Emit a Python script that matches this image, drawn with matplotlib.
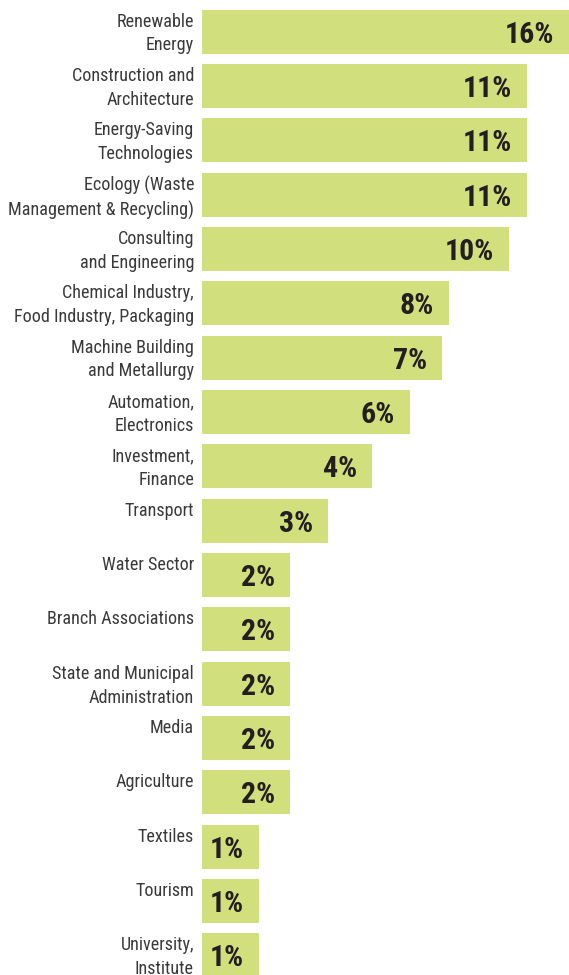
import matplotlib
matplotlib.use("Agg")
import matplotlib.pyplot as plt
from matplotlib import font_manager

# ---------------- data ----------------
categories = [
    "Renewable\nEnergy",
    "Construction and\nArchitecture",
    "Energy-Saving\nTechnologies",
    "Ecology (Waste\nManagement & Recycling)",
    "Consulting\nand Engineering",
    "Chemical Industry,\nFood Industry, Packaging",
    "Machine Building\nand Metallurgy",
    "Automation,\nElectronics",
    "Investment,\nFinance",
    "Transport",
    "Water Sector",
    "Branch Associations",
    "State and Municipal\nAdministration",
    "Media",
    "Agriculture",
    "Textiles",
    "Tourism",
    "University,\nInstitute",
]
percent_labels = ["16%", "11%", "11%", "11%", "10%", "8%", "7%", "6%", "4%",
                  "3%", "2%", "2%", "2%", "2%", "2%", "1%", "1%", "1%"]
# bar lengths as drawn in the infographic
bar_values = [16.0, 14.17, 14.17, 14.17, 13.38, 10.77, 10.46, 9.07, 7.41,
              5.49, 3.84, 3.84, 3.84, 3.84, 3.84, 2.48, 2.48, 2.48]

# ---------------- fonts ----------------
available = {f.name for f in font_manager.fontManager.ttflist}
def pick(options):
    for o in options:
        if o in available:
            return o
    return "DejaVu Sans"

label_font = pick(["Roboto Condensed", "Liberation Sans Narrow", "Open Sans Condensed",
                   "DejaVu Sans"])
bold_font = label_font

BAR_COLOR = "#d1df7d"
LABEL_COLOR = "#3a3a3a"
VALUE_COLOR = "#231f20"

W, H, DPI = 569, 975, 100
fig = plt.figure(figsize=(W / DPI, H / DPI), dpi=DPI)
fig.patch.set_facecolor("white")

left = 202 / W
ax = fig.add_axes([left, 0.0, 1.0 - left, 1.0])
ax.set_facecolor("white")

n = len(categories)
ys = list(range(n))
bar_h = 0.81
ax.barh(ys, bar_values, height=bar_h, color=BAR_COLOR, edgecolor="none")

ax.set_xlim(0, 16.0)
ax.set_ylim(17.36, -0.58)
ax.axis("off")

for y, cat, val, lab in zip(ys, categories, bar_values, percent_labels):
    ax.annotate(cat, xy=(0, y - bar_h / 2), xytext=(-8, -3),
                textcoords="offset pixels", ha="right", va="top",
                fontsize=13.1, family=label_font, fontweight="normal",
                color=LABEL_COLOR, linespacing=1.42, annotation_clip=False)
    ax.annotate(lab, xy=(val, y), xytext=(-15, -11),
                textcoords="offset pixels", ha="right", va="baseline",
                fontsize=21.5, fontweight="bold", family=bold_font,
                color=VALUE_COLOR, annotation_clip=False)

fig.savefig("out.png", dpi=DPI, facecolor="white")
